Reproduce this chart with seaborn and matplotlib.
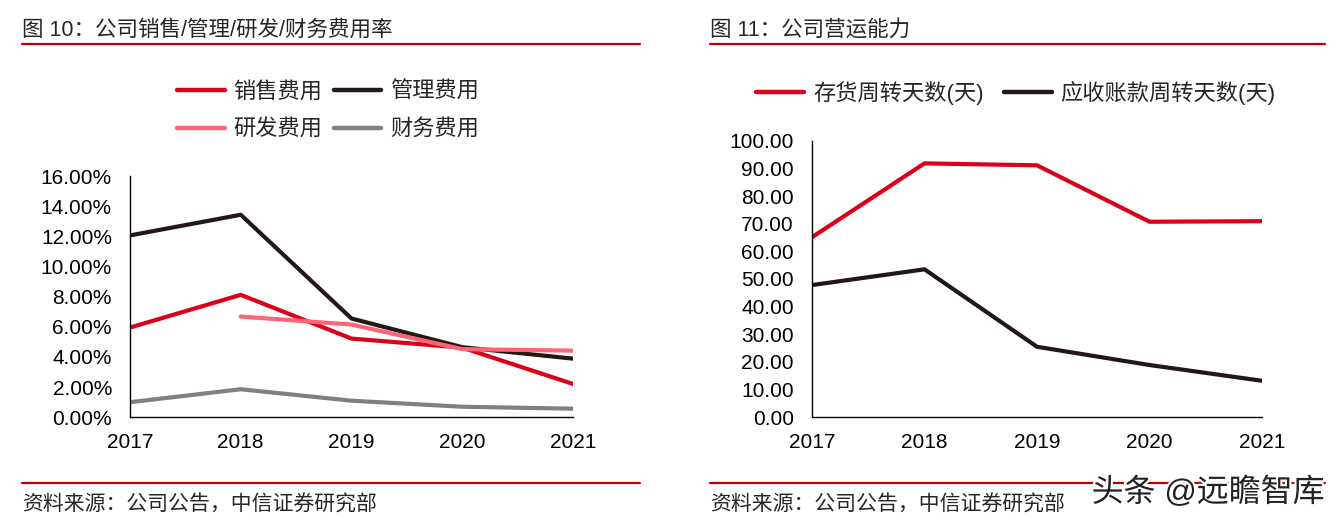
import matplotlib
matplotlib.use("Agg")
import matplotlib.pyplot as plt
import matplotlib.patheffects as pe
from matplotlib.lines import Line2D
from matplotlib.ticker import FuncFormatter
import pandas as pd
import seaborn as sns

# Data
years = [2017, 2018, 2019, 2020, 2021]
sales_rate = [5.95, 8.12, 5.22, 4.62, 2.21]
admin_rate = [12.06, 13.43, 6.55, 4.65, 3.89]
rd_rate = [None, 6.68, 6.15, 4.52, 4.42]
fin_rate = [1.00, 1.86, 1.10, 0.70, 0.57]
inventory_days = [65.1, 91.8, 91.1, 70.7, 70.9]
receivable_days = [47.8, 53.5, 25.5, 18.9, 13.2]

cost_names = ["销售费用", "管理费用", "研发费用", "财务费用"]
ops_names = ["存货周转天数(天)", "应收账款周转天数(天)"]

RED = "#DA0019"
BLACK = "#231815"
PINK = "#FF6475"
GREY = "#808080"
LINE_RED = "#C00000"

sns.set_style("white")
plt.rcParams["font.family"] = ["Liberation Sans", "Noto Sans CJK SC", "DejaVu Sans"]

cost_df = pd.DataFrame({
    "year": years * 4,
    "value": sales_rate + admin_rate + rd_rate + fin_rate,
    "series": sum([[n] * len(years) for n in cost_names], []),
}).dropna()
ops_df = pd.DataFrame({
    "year": years * 2,
    "value": inventory_days + receivable_days,
    "series": sum([[n] * len(years) for n in ops_names], []),
})

fig = plt.figure(figsize=(13.4, 5.26), dpi=100)
ax1 = fig.add_axes([130 / 1340, 1 - 417.3 / 526, (573 - 130) / 1340, (417.3 - 176) / 526])
ax2 = fig.add_axes([812 / 1340, 1 - 417.3 / 526, (1262 - 812) / 1340, (417.3 - 140.7) / 526])

cost_palette = dict(zip(cost_names, [RED, BLACK, PINK, GREY]))
ops_palette = dict(zip(ops_names, [RED, BLACK]))
sns.lineplot(data=cost_df, x="year", y="value", hue="series", palette=cost_palette,
             linewidth=3, ax=ax1, legend=False)
sns.lineplot(data=ops_df, x="year", y="value", hue="series", palette=ops_palette,
             linewidth=3, ax=ax2, legend=False)

for ax in (ax1, ax2):
    ax.set_xlim(2017, 2021)
    ax.set_xticks(years)
    ax.set_xlabel("")
    ax.set_ylabel("")
    for s in ("top", "right"):
        ax.spines[s].set_visible(False)
    for s in ("left", "bottom"):
        ax.spines[s].set_color("black")
        ax.spines[s].set_linewidth(1.0)
    ax.tick_params(axis="both", direction="out", length=5, width=1, color="black",
                   labelsize=15, labelcolor="black")
    ax.tick_params(axis="x", pad=6)
    ax.tick_params(axis="y", pad=8)

ax1.set_ylim(0, 16)
ax1.set_yticks(range(0, 17, 2))
ax1.yaxis.set_major_formatter(FuncFormatter(lambda v, p: f"{v:.2f}%"))
ax2.set_ylim(0, 100)
ax2.set_yticks(range(0, 101, 10))
ax2.yaxis.set_major_formatter(FuncFormatter(lambda v, p: f"{v:.2f}"))

# Legends
def handle(c):
    return Line2D([], [], color=c, linewidth=3.2, solid_capstyle="round")

order = [0, 2, 1, 3]
fig.legend([handle(cost_palette[cost_names[i]]) for i in order], [cost_names[i] for i in order],
           ncol=2, loc="center", bbox_to_anchor=(328 / 1340, 1 - 111 / 526), frameon=False,
           fontsize=16, handlelength=2.15, handletextpad=0.4, columnspacing=0.5, labelspacing=0.75)
fig.legend([handle(ops_palette[n]) for n in ops_names], ops_names,
           ncol=2, loc="center", bbox_to_anchor=(1016 / 1340, 1 - 93 / 526), frameon=False,
           fontsize=16, handlelength=2.15, handletextpad=0.4, columnspacing=0.9)

# Titles, rules and footers
fig.text(22 / 1340, 1 - 30 / 526, "图 10：公司销售/管理/研发/财务费用率", fontsize=15.5, va="center", ha="left")
fig.text(710 / 1340, 1 - 30 / 526, "图 11：公司营运能力", fontsize=15.5, va="center", ha="left")
for x0, x1 in ((22, 640), (710, 1325)):
    for yy in (44, 483):
        fig.add_artist(Line2D([x0 / 1340, x1 / 1340], [1 - yy / 526] * 2, color=LINE_RED, linewidth=1.6))
fig.text(22 / 1340, 1 - 505 / 526, "资料来源：公司公告，中信证券研究部", fontsize=15, va="center", ha="left")
fig.text(710 / 1340, 1 - 505 / 526, "资料来源：公司公告，中信证券研究部", fontsize=15, va="center", ha="left")
fig.text(1325 / 1340, 1 - 493 / 526, "头条 @远瞻智库", fontsize=23, va="center", ha="right",
         color="#222222", path_effects=[pe.withStroke(linewidth=3, foreground="white")])

fig.savefig("out.png", dpi=100)
